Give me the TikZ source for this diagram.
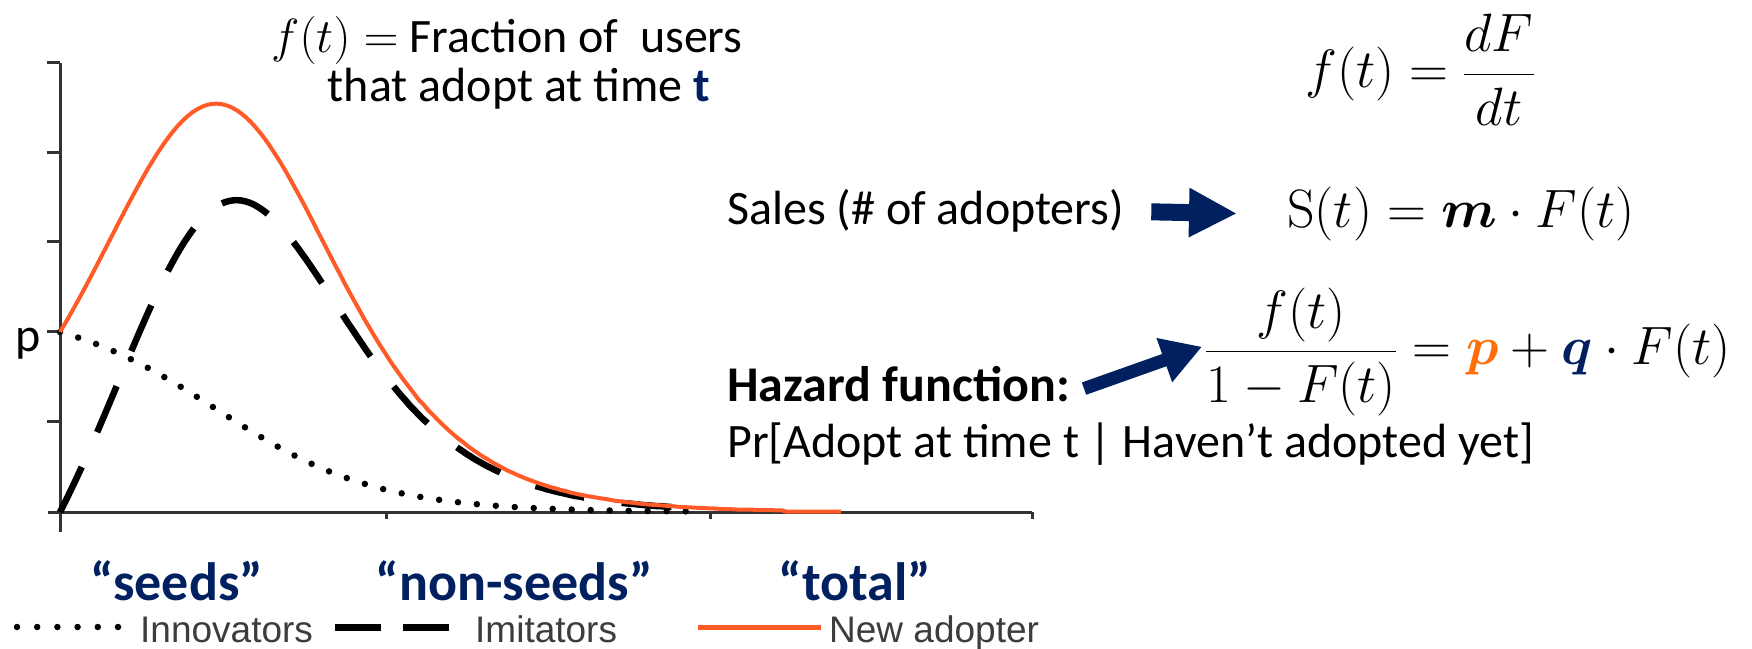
\RequirePackage{fix-cm}
\documentclass[tikz,border=0pt]{standalone}
\usepackage{amsmath}
\usepackage[no-math]{fontspec}
\setmainfont{Carlito}
\newfontfamily\keyfont{Liberation Sans}
\usetikzlibrary{arrows.meta}
\definecolor{navy}{RGB}{0,32,96}
\definecolor{curve}{RGB}{255,90,40}
\definecolor{porange}{RGB}{255,110,10}
\definecolor{keygray}{RGB}{60,60,60}
\definecolor{axisgray}{RGB}{50,50,50}

\begin{document}
\begin{tikzpicture}[x=1pt, y=1pt,
  declare function={ee(\u)=exp(-0.0124*\u); FF(\u)=(1-ee(\u))/(1+6.93*ee(\u));},
  every node/.style={inner sep=0pt},
  axis/.style={draw=axisgray, line width=3pt},
  innov/.style={line width=6.5pt, line cap=round, dash pattern=on 0pt off 19pt},
  imit/.style={line width=6.5pt, dash pattern=on 50pt off 38pt},
  total/.style={draw=curve, line width=4pt},
  words/.style={font=\fontsize{48}{49}\selectfont},
  formula/.style={font=\fontsize{54}{60}\selectfont},
  tag/.style={font=\fontsize{54}{60}\selectfont\bfseries, text=navy},
  keytext/.style={font=\keyfont\fontsize{37}{40}\selectfont, text=keygray},
  block arrow/.style={draw=navy, line width=17pt, -{Triangle[length=48pt, width=46pt]}}]

\useasboundingbox (0,0) rectangle (1752,648);

\draw[axis] (60,116) -- (60,585);
\draw[axis] (48,136) -- (1032,136);
\foreach \y in {585,495,406,316,226}
  \draw[axis] (47,\y) -- (60,\y);
\foreach \x in {386,710,1032}
  \draw[axis] (\x,136) -- (\x,129);

\draw[innov] plot[domain=0:640, samples=120] ({60+\x}, {136+180*(1-FF(\x))});
\draw[imit] plot[domain=0:640, samples=160] ({60+\x}, {136+180*6.93*FF(\x)*(1-FF(\x))});
\draw[total] plot[domain=0:781, samples=160] ({60+\x}, {136+180*(1-FF(\x))*(1+6.93*FF(\x))});

\node[words, anchor=base east] (p-label) at (41,296) {p};
\node[words, anchor=base] (top-1) at (507,595) {$f(t) =$ Fraction of\ \ users};
\node[words, anchor=base] (top-2) at (519,546) {that adopt at time \textcolor{navy}{\textbf{t}}};

\node[formula, anchor=base west] (rate-eq) at (1305,560) {$f(t) = \dfrac{dF}{dt}$};
\node[words, anchor=base west] (sales-text) at (727,423) {Sales (\# of adopters)};
\node[formula, anchor=base west] (sales-eq) at (1287,420) {$\mathrm{S}(t) = \boldsymbol{m}\cdot F(t)$};
\node[words, font=\fontsize{50}{52}\selectfont\bfseries, anchor=base west] (hazard-text) at (727,246) {Hazard function:};
\node[formula, anchor=base west] (hazard-eq) at (1205,283)
  {$\dfrac{f(t)}{1-F(t)} = \textcolor{porange}{\boldsymbol{p}} + \textcolor{navy}{\boldsymbol{q}}\cdot F(t)$};
\node[words, anchor=base west] (hazard-note) at (727,190) {Pr[Adopt at time t | Haven’t adopted yet]};

\draw[block arrow, shorten <=27pt, shorten >=50pt] (sales-text.east) -- (sales-eq.west);
\draw[block arrow, line width=13pt, -{Triangle[length=40pt, width=44pt]}]
  ([xshift=14pt,yshift=-4pt]hazard-text.east) -- ([xshift=-3pt,yshift=5pt]hazard-eq.west);

\node[tag, anchor=base] (tag-seeds) at (177,48) {“seeds”};
\node[tag, anchor=base] (tag-nonseeds) at (514,48) {“non-seeds”};
\node[tag, anchor=base] (tag-total) at (855,48) {“total”};

\draw[innov, dash pattern=on 0pt off 20.2pt] (17,21) -- (118.5,21);
\node[keytext, anchor=base west] (key-innov) at (140,6) {Innovators};
\draw[imit, line width=7pt, dash pattern=on 46pt off 22pt] (335,21) -- (449,21);
\node[keytext, anchor=base west] (key-imit) at (475,6) {Imitators};
\draw[total, line width=5pt] (698,21) -- (821,21);
\node[keytext, anchor=base west] (key-new) at (829,6) {New adopter};

\end{tikzpicture}
\end{document}
